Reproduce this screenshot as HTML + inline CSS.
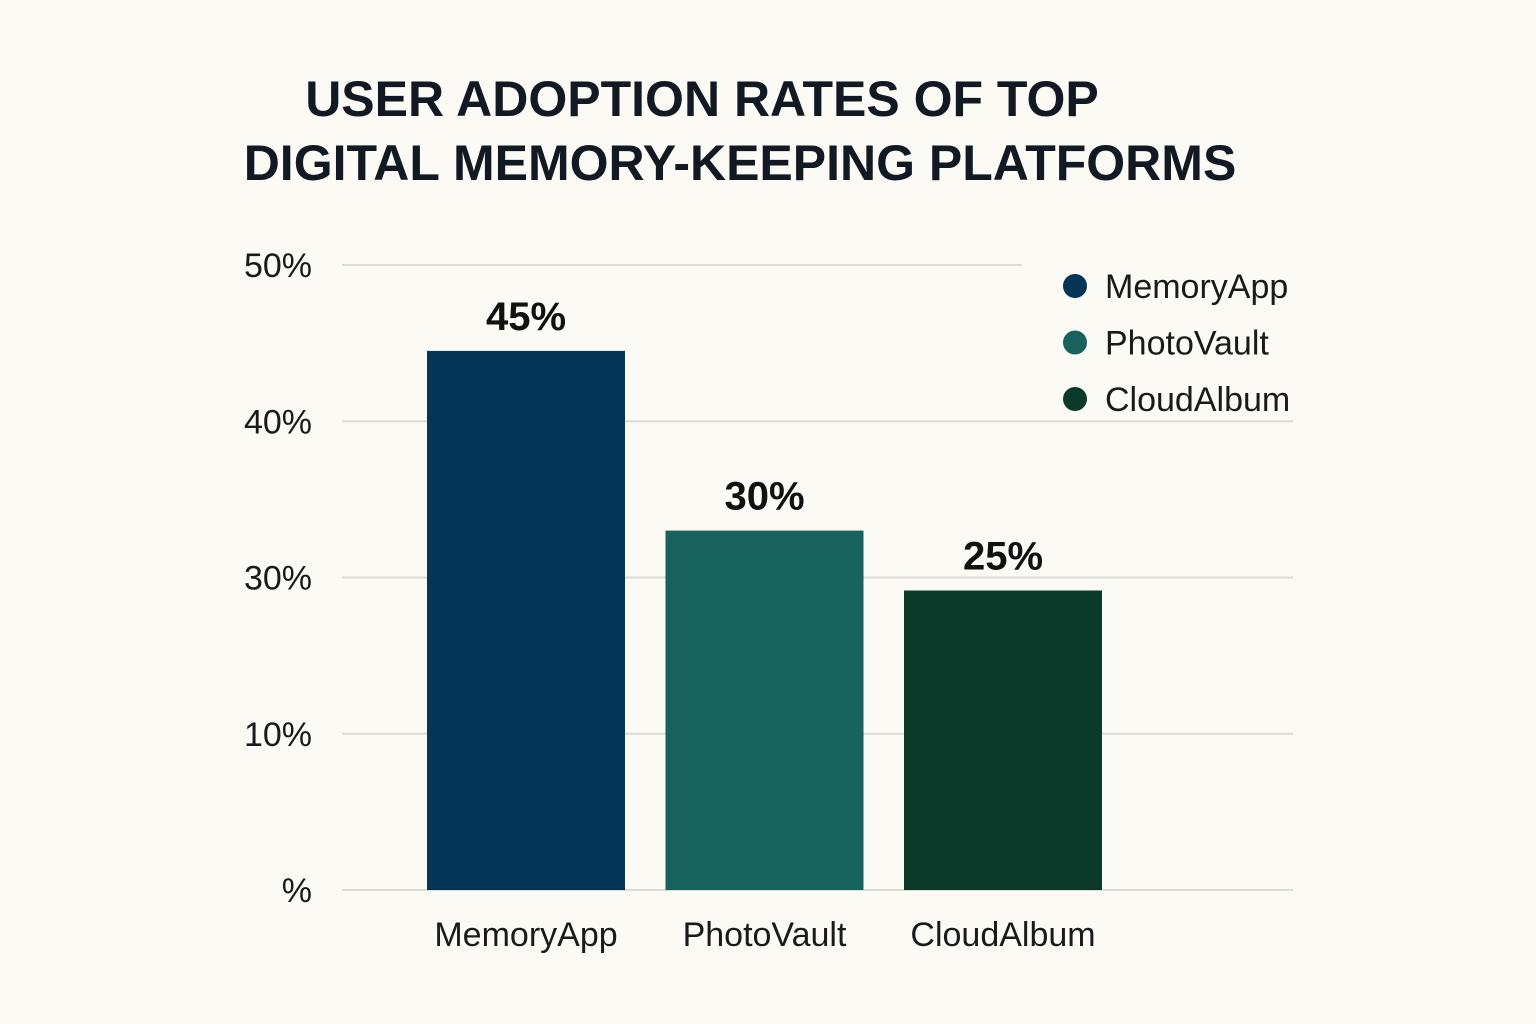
<!DOCTYPE html>
<html><head><meta charset="utf-8"><style>
html,body{margin:0;padding:0;background:#fcfaf5;}
svg{display:block;font-family:"Liberation Sans",sans-serif;}
</style></head><body>
<svg id="chart" width="1536" height="1024" viewBox="0 0 1536 1024">
<rect width="1536" height="1024" fill="#fcfaf5"/>
<text x="740" y="0" font-size="50" font-weight="bold" fill="#111a22" text-anchor="middle"><tspan x="702" y="116">USER ADOPTION RATES OF TOP</tspan><tspan x="740" y="180">DIGITAL MEMORY-KEEPING PLATFORMS</tspan></text>
<g id="grid"></g>
<g id="bars"></g>
<g id="legend"></g>
</svg>
<script>
const categories = ["MemoryApp","PhotoVault","CloudAlbum"];
const values = [45,30,25];
const valueLabels = ["45%","30%","25%"];
const tickLabels = ["%","10%","30%","40%","50%"];
const colors = ["#053556","#18625e","#0c3a2a"];
const NS="http://www.w3.org/2000/svg";
const baseY=890, topY=265, unit=11.98;
function yScale(v){return baseY - v*unit;}
function tickY(i){return baseY - i*(baseY-topY)/(tickLabels.length-1);}
function xBand(i){return 427 + i*238.5;}
const bw=198;
function mk(t,a,p){const e=document.createElementNS(NS,t);for(const k in a)e.setAttribute(k,a[k]);p.appendChild(e);return e;}
const grid=document.getElementById('grid');
tickLabels.forEach((lab,i)=>{
  const y=tickY(i);
  const l=mk('line',{x1:342,x2:i===tickLabels.length-1?1022:1293,y1:y,y2:y,stroke:"#dedcd6","stroke-width":2},grid);
  
  
  const t=mk('text',{x:312,y:y+12,"font-size":34,fill:"#1a1a1a","text-anchor":"end"},grid);
  t.textContent=lab;
  
  
});
const bars=document.getElementById('bars');
categories.forEach((c,i)=>{
  const x=xBand(i), y=yScale(values[i]);
  const r=mk('rect',{x:x,y:y,width:bw,height:baseY-y,fill:colors[i]},bars);
  
  
  const v=mk('text',{x:x+bw/2,y:y-21,"font-size":40,"font-weight":"bold",fill:"#111","text-anchor":"middle"},bars);
  v.textContent=valueLabels[i];
  
  
  const t=mk('text',{x:x+bw/2,y:946,"font-size":34,fill:"#1a1a1a","text-anchor":"middle"},bars);
  t.textContent=c;
  
  
});
const leg=document.getElementById('legend');
categories.forEach((c,i)=>{
  const y=286+i*56.5;
  const g=mk('g',{},leg);
  
  
  mk('circle',{cx:1075,cy:y,r:12,fill:colors[i]},g);
  const t=mk('text',{x:1105,y:y+12,"font-size":34,fill:"#1a1a1a"},g);
  t.textContent=c;
});
</script>
</body></html>
